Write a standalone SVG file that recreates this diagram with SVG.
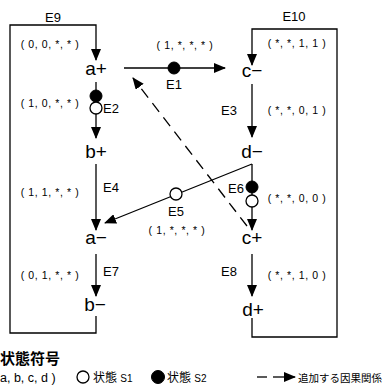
<svg xmlns="http://www.w3.org/2000/svg" width="384" height="388" viewBox="0 0 384 388">
<defs>
<marker id="ah" markerUnits="userSpaceOnUse" markerWidth="12" markerHeight="10" refX="11" refY="5" orient="auto">
<path d="M0,0 L12,5 L0,10 Z" fill="#000"/>
</marker>
</defs>
<style>
.ln{stroke:#000;stroke-width:1.3;fill:none}
.dash{stroke:#000;stroke-width:1.3;fill:none;stroke-dasharray:11,7}
.node{font-family:"Liberation Sans",Arial,sans-serif;font-size:19px;text-anchor:middle;fill:#000}
.ev{font-family:"Liberation Sans",Arial,sans-serif;font-size:13px;fill:#000}
.tp{font-family:"Liberation Sans",Arial,sans-serif;font-size:10.5px;fill:#000;text-anchor:middle;letter-spacing:0.6px}
.jp{font-family:"Liberation Sans","Noto Sans CJK JP",sans-serif;fill:#000}
.s1{fill:#fff;stroke:#000;stroke-width:1.3}
.s2{fill:#000;stroke:#000;stroke-width:1}
</style>
<g id="connectors">
<path class="ln" d="M96,316 V333 H10 V25 H96 V60" marker-end="url(#ah)"/>
<path class="ln" d="M252,318 V337 H337 V29 H252 V65" marker-end="url(#ah)"/>
<line class="ln" x1="96" y1="82" x2="96" y2="138" marker-end="url(#ah)"/>
<line class="ln" x1="96" y1="164" x2="96" y2="230" marker-end="url(#ah)"/>
<line class="ln" x1="96" y1="254" x2="96" y2="296" marker-end="url(#ah)"/>
<line class="ln" x1="252" y1="84" x2="252" y2="137" marker-end="url(#ah)"/>
<line class="ln" x1="252" y1="164" x2="252" y2="230" marker-end="url(#ah)"/>
<line class="ln" x1="252" y1="254" x2="252" y2="296" marker-end="url(#ah)"/>
<line class="ln" x1="124" y1="68" x2="225" y2="68" marker-end="url(#ah)"/>
<line class="ln" x1="252" y1="164" x2="105" y2="223" marker-end="url(#ah)"/>
<line class="dash" x1="247" y1="226" x2="133" y2="78" marker-end="url(#ah)"/>
</g>
<g id="E1"><circle class="s2" cx="174" cy="68" r="6"/><text class="ev" x="174" y="89" text-anchor="middle">E1</text><text class="tp" x="185" y="49">( 1, *, *, * )</text></g>
<g id="E2"><circle class="s2" cx="96" cy="96" r="6"/><circle class="s1" cx="96" cy="108" r="6"/><text class="ev" x="103" y="113">E2</text><text class="tp" x="50" y="107">( 1, 0, *, * )</text></g>
<g id="E3"><text class="ev" x="229" y="115" text-anchor="middle">E3</text><text class="tp" x="297" y="114">( *, *, 0, 1 )</text></g>
<g id="E4"><text class="ev" x="103" y="192">E4</text><text class="tp" x="50" y="196">( 1, 1, *, * )</text></g>
<g id="E5"><circle class="s1" cx="176" cy="194" r="6"/><text class="ev" x="176" y="216" text-anchor="middle">E5</text><text class="tp" x="177" y="234">( 1, *, *, * )</text></g>
<g id="E6"><circle class="s2" cx="252" cy="187" r="6"/><circle class="s1" cx="252" cy="201" r="6"/><text class="ev" x="244" y="193" text-anchor="end">E6</text><text class="tp" x="297" y="202">( *, *, 0, 0 )</text></g>
<g id="E7"><text class="ev" x="103" y="276">E7</text><text class="tp" x="50" y="279">( 0, 1, *, * )</text></g>
<g id="E8"><text class="ev" x="229" y="276" text-anchor="middle">E8</text><text class="tp" x="297" y="279">( *, *, 1, 0 )</text></g>
<g id="E9"><text class="ev" x="53" y="22" text-anchor="middle">E9</text><text class="tp" x="50" y="48">( 0, 0, *, * )</text></g>
<g id="E10"><text class="ev" x="294" y="21" text-anchor="middle">E10</text><text class="tp" x="297" y="47">( *, *, 1, 1 )</text></g>
<g id="a_plus"><text class="node" x="96" y="75">a+</text></g>
<g id="b_plus"><text class="node" x="96" y="158">b+</text></g>
<g id="a_minus"><text class="node" x="96" y="244">a−</text></g>
<g id="b_minus"><text class="node" x="95" y="311">b−</text></g>
<g id="c_minus"><text class="node" x="252" y="77">c−</text></g>
<g id="d_minus"><text class="node" x="252" y="158">d−</text></g>
<g id="c_plus"><text class="node" x="252" y="244">c+</text></g>
<g id="d_plus"><text class="node" x="253" y="316">d+</text></g>
<g id="legend">
<text class="jp" x="0" y="364" font-size="15" font-weight="bold">状態符号</text>
<text class="jp" x="0" y="382" font-size="12.5">a, b, c, d )</text>
<circle class="s1" cx="83" cy="377" r="6"/>
<text class="jp" x="93" y="382" font-size="12">状態 <tspan font-size="10">S1</tspan></text>
<circle class="s2" cx="158" cy="377" r="6.5"/>
<text class="jp" x="167" y="382" font-size="12">状態 <tspan font-size="10">S2</tspan></text>
<line class="ln" x1="257" y1="377" x2="267" y2="377"/>
<line class="ln" x1="273" y1="377" x2="295" y2="377" marker-end="url(#ah)"/>
<text class="jp" x="298" y="382" font-size="10.5">追加する因果関係</text>
</g>
</svg>
